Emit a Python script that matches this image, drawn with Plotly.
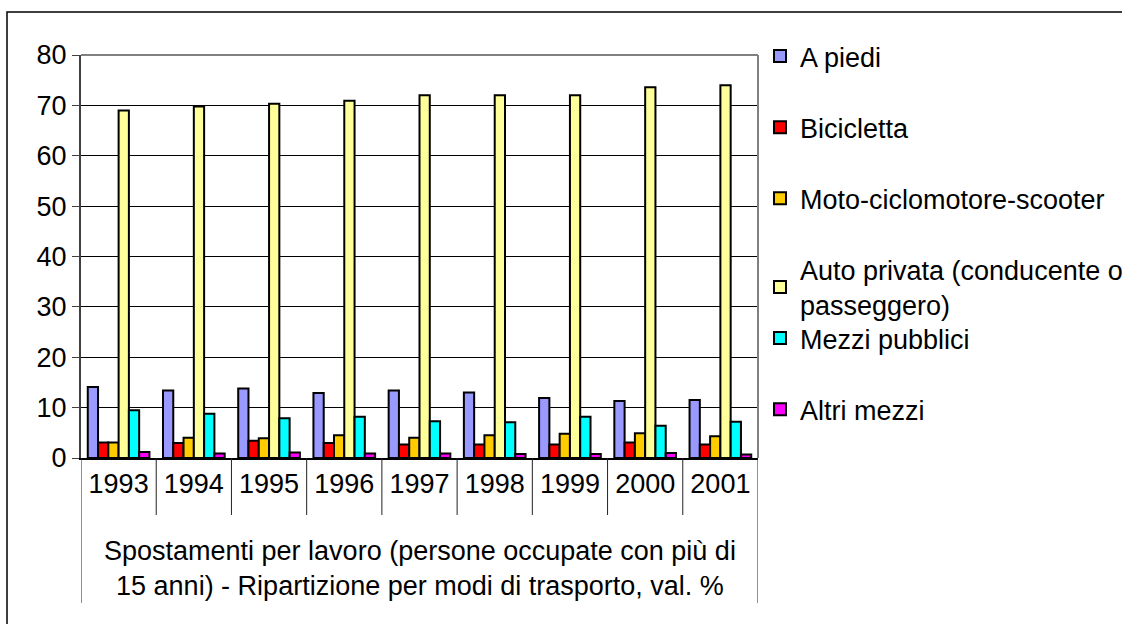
import plotly.graph_objects as go

years = ["1993", "1994", "1995", "1996", "1997", "1998", "1999", "2000", "2001"]
a_piedi = [14.1, 13.4, 13.8, 12.9, 13.4, 13.0, 11.9, 11.3, 11.5]
bicicletta = [3.1, 3.0, 3.4, 3.0, 2.7, 2.7, 2.7, 3.1, 2.7]
moto = [3.1, 4.0, 3.9, 4.5, 4.0, 4.5, 4.8, 4.9, 4.3]
auto = [69.0, 69.8, 70.3, 70.9, 72.0, 72.0, 72.0, 73.6, 74.0]
mezzi = [9.5, 8.8, 7.9, 8.2, 7.3, 7.1, 8.2, 6.4, 7.2]
altri = [1.2, 0.9, 1.1, 0.9, 0.9, 0.8, 0.8, 1.0, 0.7]

series_names = ["A piedi", "Bicicletta", "Moto-ciclomotore-scooter",
                "Auto privata (conducente o<br>passeggero)", "Mezzi pubblici", "Altri mezzi"]
series_values = [a_piedi, bicicletta, moto, auto, mezzi, altri]
colors = ["#9999FF", "#FF0000", "#FFCC00", "#FFFF99", "#00FFFF", "#FF00FF"]
legend_ids = ["legend", "legend", "legend", "legend", "legend2", "legend2"]

title_text = "Spostamenti per lavoro (persone occupate con più di<br>15 anni) - Ripartizione per modi di trasporto, val. %"

FONT = "Liberation Sans, Arial, sans-serif"
FS = 27

fig = go.Figure()
for i, (name, vals, col, lg) in enumerate(zip(series_names, series_values, colors, legend_ids)):
    fig.add_trace(go.Bar(
        x=years, y=vals, name=name, legendgroup=f"g{i}", legend=lg,
        marker=dict(color=col, line=dict(color="black", width=2)),
    ))

W, H = 1122, 624
L, R, T, B = 81, 364, 55, 166
pw = W - L - R
ph = H - T - B

def px_y(py):
    return (H - B - py) / ph

def px_x(px):
    return (px - L) / pw

shapes = []
n = len(years)
for k in range(n + 1):
    bottom = px_y(603) if k in (0, n) else px_y(515)
    shapes.append(dict(type="line", xref="x", yref="paper", x0=k - 0.5, x1=k - 0.5,
                       y0=0, y1=bottom, line=dict(color="#222222", width=1)))
shapes.append(dict(type="line", xref="paper", yref="paper", x0=0, x1=1, y0=1, y1=1,
                   line=dict(color="#808080", width=2)))
shapes.append(dict(type="line", xref="paper", yref="paper", x0=1, x1=1, y0=0, y1=1,
                   line=dict(color="#808080", width=2)))
shapes.append(dict(type="rect", xref="paper", yref="paper",
                   x0=px_x(7), x1=px_x(1135), y0=px_y(640), y1=px_y(12),
                   line=dict(color="black", width=1.5)))

legend_common = dict(xanchor="left", yanchor="top",
                     font=dict(family=FONT, size=FS, color="black"),
                     traceorder="grouped", tracegroupgap=33,
                     bgcolor="rgba(0,0,0,0)")

fig.update_layout(
    width=W, height=H,
    margin=dict(l=L, r=R, t=T, b=B, pad=0, autoexpand=False),
    paper_bgcolor="white", plot_bgcolor="white",
    font=dict(family=FONT, size=FS, color="black"),
    barmode="group", bargap=0.18, bargroupgap=0,
    showlegend=True,
    legend=dict(x=px_x(760), y=px_y(32), **legend_common),
    legend2=dict(x=px_x(760), y=px_y(314), **legend_common),
    shapes=shapes,
    annotations=[dict(text=title_text, xref="paper", yref="paper",
                      x=0.5, y=px_y(568), xanchor="center", yanchor="middle",
                      showarrow=False, font=dict(family=FONT, size=FS, color="black"))],
)
fig.update_xaxes(
    type="category", showgrid=False, showline=True, linecolor="black", linewidth=1.5,
    ticks="", tickfont=dict(family=FONT, size=FS, color="black"),
    ticklabelstandoff=1, range=[-0.5, n - 0.5], automargin=False,
)
fig.update_yaxes(
    range=[0, 80], dtick=10, showgrid=True, gridcolor="black", gridwidth=1,
    showline=True, linecolor="#404040", linewidth=2, ticks="outside", ticklen=7,
    tickcolor="#404040", tickfont=dict(family=FONT, size=FS, color="black"),
    zeroline=False, automargin=False,
)

fig.write_html("out.html", config={"displayModeBar": False},
               post_script="document.body.style.margin='0';")
